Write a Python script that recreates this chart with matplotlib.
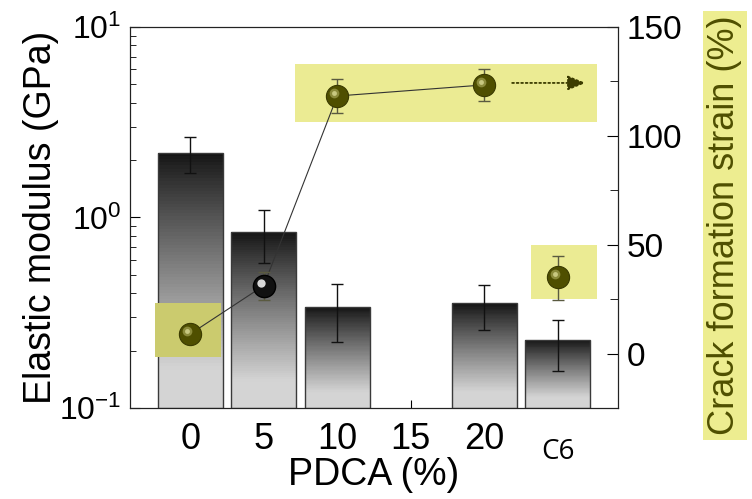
import matplotlib.pyplot as plt
import matplotlib.transforms as mtransforms
from matplotlib.patches import Rectangle
import numpy as np

plt.rcParams['font.family'] = ['Liberation Sans', 'DejaVu Sans']
plt.rcParams['mathtext.fontset'] = 'custom'
plt.rcParams['mathtext.rm'] = 'Liberation Sans'

# PDCA content (%) -- the C6 control sample sits at x = 25
bar_x = [0, 5, 10, 20, 25]
modulus = [2.19, 0.84, 0.34, 0.354, 0.228]        # GPa
mod_hi = [2.65, 1.09, 0.448, 0.44, 0.29]
mod_lo = [1.71, 0.58, 0.223, 0.258, 0.157]

strain_x = [0, 5, 10, 20]
strain = [9.0, 31.2, 118.3, 123.4]                # crack formation strain (%)
strain_hi = [9.0, 37.3, 126.0, 130.7]
strain_lo = [9.0, 24.5, 110.7, 116.0]

c6_x = 25
c6_strain = 35.0
c6_hi = 45.0
c6_lo = 24.8

xticks = [0, 5, 10, 15, 20]
olive = '#4f4f00'

fig = plt.figure(figsize=(7.52, 4.99), dpi=100)
ax = fig.add_axes([0.1729, 0.1824, 0.6489, 0.7635])
ax.set_yscale('log')
ax.set_ylim(0.1, 10)
ax.set_xlim(-4.1, 29.1)

# gradient bars: black at the top fading to light grey at the base
w = 4.4
for x, h in zip(bar_x, modulus):
    edges = np.logspace(np.log10(h), -1, 81)
    for i in range(80):
        s = i / 79
        g = 0.08 + 0.75 * min(1, s / 0.85) ** 0.9
        ax.bar(x, edges[i] - edges[i + 1], bottom=edges[i + 1], width=w,
               color=(g, g, g), edgecolor='none', linewidth=0, zorder=3)
    ax.bar(x, h - 0.1, bottom=0.1, width=w, facecolor='none',
           edgecolor='#3a3a3a', linewidth=1.0, zorder=4)

yerr = [np.array(modulus) - np.array(mod_lo), np.array(mod_hi) - np.array(modulus)]
ax.errorbar(bar_x, modulus, yerr=yerr, fmt='none', ecolor='#111111',
            elinewidth=1.0, capsize=4, capthick=1.0, zorder=5)

ax.set_xticks(xticks)
ax.set_xticklabels([str(t) for t in xticks], fontsize=26)
ax.tick_params(axis='x', direction='in', length=6, pad=10)
ax.tick_params(axis='y', which='major', direction='in', length=7, labelsize=23, pad=6)
ax.tick_params(axis='y', which='minor', direction='in', length=4)
ax.text(c6_x, -0.115, 'C6', transform=mtransforms.blended_transform_factory(ax.transData, ax.transAxes),
        ha='center', va='center', fontsize=20, family=['Open Sans', 'DejaVu Sans'])
ax.set_xlabel('PDCA (%)', fontsize=27, labelpad=0)
ax.set_ylabel('Elastic modulus (GPa)', fontsize=27, labelpad=0)

# right axis: crack formation strain
ax2 = ax.twinx()
ax2.set_ylim(-25, 150)
ax2.set_yticks([0, 50, 100, 150])
ax2.set_yticks([25, 75, 125], minor=True)
ax2.tick_params(axis='y', which='major', direction='in', length=8, labelsize=24, pad=6)
ax2.tick_params(axis='y', which='minor', direction='in', length=6)
for sp in ax2.spines.values():
    sp.set_color('#222222')

# highlight boxes
ax2.add_patch(Rectangle((-2.4, -1.4), 4.5, 24.8, facecolor='#cbcb6e',
                        edgecolor='none', zorder=1))
ax2.add_patch(Rectangle((7.1, 106.4), 20.6, 26.6, facecolor='#ebeb93',
                        edgecolor='none', zorder=1))
ax2.add_patch(Rectangle((23.2, 25.2), 4.5, 24.8, facecolor='#ebeb93',
                        edgecolor='none', zorder=1))

ax2.plot(strain_x, strain, color='#333333', linewidth=0.8, zorder=2)
serr = [np.array(strain) - np.array(strain_lo), np.array(strain_hi) - np.array(strain)]
ax2.errorbar(strain_x, strain, yerr=serr, fmt='none', ecolor='#5a5a40',
             elinewidth=1.0, capsize=4, capthick=1.0, zorder=3)
ax2.errorbar([c6_x], [c6_strain], yerr=[[c6_strain - c6_lo], [c6_hi - c6_strain]],
             fmt='none', ecolor='#5a5a40', elinewidth=1.0, capsize=4, capthick=1.0, zorder=3)

# sphere markers with a small highlight
hl = mtransforms.offset_copy(ax2.transData, fig=fig, x=-3, y=3, units='dots')
sx = [0, 10, 20, c6_x]
sy = [strain[0], strain[2], strain[3], c6_strain]
ax2.plot(sx, sy, 'o', ms=16, color=olive, mec='#3a3a00', mew=0.8, linestyle='none', zorder=4)
ax2.plot(sx, sy, 'o', ms=7, color='#8a8a3a', mec='none', linestyle='none', zorder=5, transform=hl)
ax2.plot(sx, sy, 'o', ms=3.5, color='#c8c880', mec='none', linestyle='none', zorder=6, transform=hl)
ax2.plot([strain_x[1]], [strain[1]], 'o', ms=16, color='#111111', mec='#000000', zorder=4)
ax2.plot([strain_x[1]], [strain[1]], 'o', ms=6, color='#d8d8d8', mec='none', zorder=5, transform=hl)

# dotted arrow pointing off-scale
ax2.annotate('', xy=(26.9, 124.3), xytext=(21.9, 124.3),
             arrowprops=dict(arrowstyle='-|>,head_length=1.1,head_width=0.45', linestyle=(0, (1, 1.5)),
                             color='#3c3c00', lw=1.3, shrinkA=0, shrinkB=0), zorder=5)

fig.text(0.964, 0.548, 'Crack formation strain (%)', rotation=90, ha='center', va='center',
         fontsize=26, color=olive,
         bbox=dict(boxstyle='square,pad=0.12', facecolor='#eded90', edgecolor='none'))

fig.savefig('out.png', dpi=100)
